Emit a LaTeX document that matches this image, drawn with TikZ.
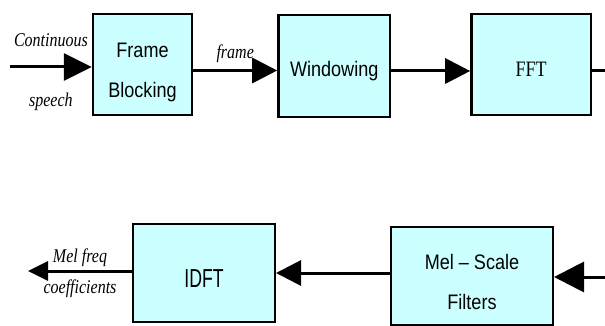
\documentclass[tikz,border=0pt]{standalone}
\usepackage{fontspec}
\setmainfont{Liberation Serif}
\setsansfont{Liberation Sans}[FakeStretch=0.86]
\newfontfamily\narrowserif{Liberation Serif}[FakeStretch=0.82]
\newfontfamily\narrowsans{Liberation Sans}[FakeStretch=0.68]
\usetikzlibrary{positioning, arrows.meta, calc}
\definecolor{boxcyan}{RGB}{204,255,255}
\tikzset{
  flow/.style={
	x=1pt, y=1pt, % one unit is one pixel of the reference
	>={Triangle[length=25pt, width=25pt]}, % big filled heads
  },
  block/.style={draw=black, line width=2.4pt, fill=boxcyan, align=center, inner sep=0pt,
	font=\sffamily\fontsize{21}{40}\selectfont}, % the cyan boxes
  signal/.style={->, line width=3pt}, % the thick arrows
  sigtext/.style={inner sep=0pt, font=\narrowserif\itshape\fontsize{19.5}{21}\selectfont}, % arrow labels
}

\begin{document}
\begin{tikzpicture}[flow]
\useasboundingbox (0,0) rectangle (605,-326);
\node[block, minimum width=99pt, minimum height=101pt, text height=70pt] (fb) at (142.5,-64.5) {Frame\\Blocking};
\node[block, minimum width=111.6pt, minimum height=101.6pt, text height=25pt, right=84pt of fb, yshift=-1.5pt] (win) {Windowing};
\node[block, minimum width=119.6pt, minimum height=100.6pt, text height=25pt, right=79pt of win, yshift=1.5pt,
	font=\narrowserif\fontsize{22}{26}\selectfont] (fft) {FFT};
\node[block, minimum width=141.6pt, minimum height=97.6pt, text height=28pt,
	font=\narrowsans\fontsize{26}{28}\selectfont] (idft) at (204,-273) {IDFT};
\node[block, minimum width=161.6pt, minimum height=97.6pt, text height=67pt, right=114pt of idft, yshift=-3pt] (mel) {Mel -- Scale\\Filters};

\coordinate (src) at (10,-67);
\coordinate (fftout) at (605,-71);
\coordinate (melin) at (605,-277);
\coordinate (mfcc) at (28,-271);

\draw[signal, >={Triangle[length=28pt, width=27pt]}] (src) -- node[sigtext, above=19pt] {Continuous} node[sigtext, below=24pt] {speech} (src -| fb.west);
\draw[signal] ([yshift=-6pt]fb.east) -- node[sigtext, above=6pt] {frame} ([yshift=-6pt]fb.east -| win.west);
\draw[signal] ([yshift=-5pt]win.east) -- ([yshift=-5pt]win.east -| fft.west);
\draw[line width=3pt] ([yshift=-6.5pt]fft.east) -- (fftout);
\draw[signal, >={Triangle[length=30pt, width=30pt]}] (melin) -- (melin -| mel.east);
\draw[signal] (mel.west |- idft.east) -- (idft.east);
\draw[signal, >={Triangle[length=20pt, width=19pt]}] (idft.west |- mfcc) -- node[sigtext, above=3pt] {Mel freq} node[sigtext, below=7pt] {coefficients} (mfcc);
\end{tikzpicture}
\end{document}
